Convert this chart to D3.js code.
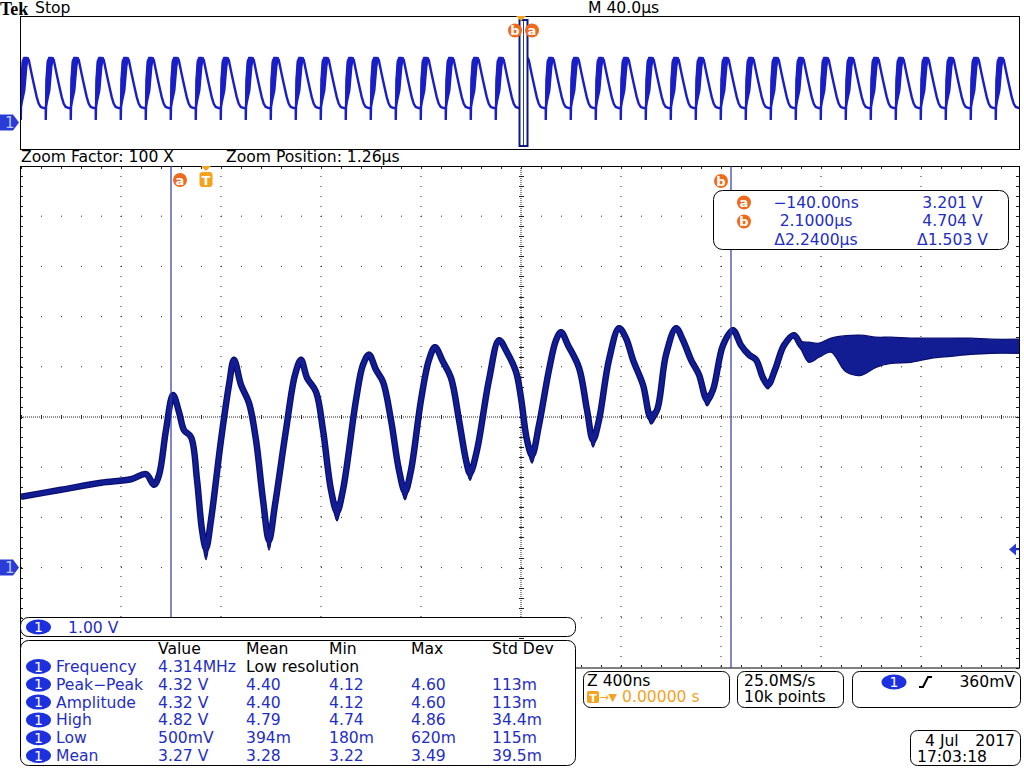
<!DOCTYPE html>
<html>
<head>
<meta charset="utf-8">
<script src="https://cdn.jsdelivr.net/npm/d3@7/dist/d3.min.js"></script>
<style>
  body { margin: 0; background: #fff; }
  svg { display: block; font-family: 'DejaVu Sans', sans-serif; }
</style>
</head>
<body>
<script>
// zoomed ch1 trace: time (ns from trigger), volts, half-width of the persistence band (V)
const traceT = [-740, -580, -420, -300, -240, -208, -188, -160, -132, -108,
  -88, -60, -36, -16, 0, 20, 60, 92, 112, 140,
  172, 200, 228, 252, 276, 320, 356, 380, 404, 440,
  468, 500, 524, 548, 600, 628, 652, 680, 708, 740,
  772, 796, 820, 860, 892, 916, 948, 980, 1012, 1040,
  1056, 1084, 1132, 1172, 1204, 1240, 1260, 1284, 1304, 1332,
  1372, 1400, 1420, 1448, 1492, 1524, 1548, 1572, 1612, 1652,
  1680, 1708, 1748, 1780, 1804, 1840, 1880, 1908, 1940, 1972,
  2004, 2028, 2068, 2108, 2140, 2172, 2200, 2228, 2248, 2276,
  2312, 2352, 2380, 2412, 2452, 2500, 2560, 2620, 2680, 2740,
  2820, 2900, 2980, 3060, 3140, 3256]
const traceV = [1.41, 1.55, 1.69, 1.76, 1.86, 1.65, 1.84, 2.74, 3.44, 3.10,
  2.74, 2.60, 1.75, 0.75, 0.38, 0.95, 2.54, 3.64, 4.14, 3.64,
  3.28, 2.54, 1.35, 0.55, 1.25, 2.74, 3.84, 4.14, 3.78, 3.50,
  2.74, 1.55, 1.11, 1.55, 3.34, 4.04, 4.24, 3.94, 3.70, 2.94,
  1.94, 1.51, 1.94, 3.34, 4.14, 4.39, 4.10, 3.78, 2.94, 2.14,
  1.88, 2.34, 3.74, 4.53, 4.29, 3.90, 3.38, 2.54, 2.24, 2.84,
  3.94, 4.53, 4.69, 4.43, 3.98, 3.14, 2.54, 2.94, 4.14, 4.77,
  4.57, 4.14, 3.64, 2.98, 3.14, 4.24, 4.77, 4.53, 4.14, 3.84,
  3.34, 3.54, 4.43, 4.73, 4.43, 4.24, 4.14, 3.78, 3.64, 3.94,
  4.43, 4.63, 4.43, 4.29, 4.33, 4.43, 4.26, 4.23, 4.29, 4.33,
  4.33, 4.37, 4.39, 4.41, 4.41, 4.41]
const traceSpread = [0.03, 0.03, 0.03, 0.03, 0.03, 0.03, 0.03, 0.05, 0.04, 0.04,
  0.04, 0.04, 0.08, 0.14, 0.22, 0.10, 0.05, 0.05, 0.05, 0.05,
  0.05, 0.08, 0.10, 0.20, 0.08, 0.05, 0.05, 0.05, 0.05, 0.05,
  0.08, 0.10, 0.18, 0.08, 0.05, 0.05, 0.05, 0.05, 0.05, 0.08,
  0.10, 0.16, 0.08, 0.05, 0.05, 0.05, 0.05, 0.05, 0.08, 0.10,
  0.14, 0.08, 0.05, 0.05, 0.05, 0.05, 0.08, 0.10, 0.16, 0.08,
  0.05, 0.05, 0.05, 0.05, 0.05, 0.08, 0.14, 0.08, 0.05, 0.05,
  0.05, 0.05, 0.08, 0.12, 0.08, 0.05, 0.05, 0.05, 0.05, 0.05,
  0.12, 0.08, 0.05, 0.05, 0.05, 0.05, 0.05, 0.08, 0.08, 0.05,
  0.05, 0.05, 0.08, 0.20, 0.14, 0.14, 0.36, 0.40, 0.30, 0.26,
  0.24, 0.20, 0.18, 0.16, 0.14, 0.14]

// overview record: one cycle as [µs after the dip, V], and where each cycle starts (µs)
const ovSpike = [[0, 1.08], [0, 0.18], [0.1, 1.08]]
const ovRiseEarly = [[0.1, 1.08], [0.3, 3.2], [0.8, 4.6], [1.4, 4.84], [2.4, 4.84]]
const ovRiseLate = [[0.1, 1.08], [1.6, 2.4], [2.4, 4.2], [3.0, 4.84]]
const ovFall = [[2.4, 4.84], [3.2, 4.7], [4.4, 3.6], [5.2, 2.9], [6.4, 1.9],
  [7.2, 1.4], [8.0, 1.16], [9.2, 1.08], [10.0, 1.08]]
const ovStarts = [-209.7, -199.7, -189.7, -179.7, -169.7, -159.7, -149.7, -139.7, -129.7, -119.7,
  -109.7, -99.7, -89.7, -79.7, -69.7, -59.7, -49.7, -39.7, -29.7, -19.7,
  -9.7, 0.3, 10.3, 20.3, 30.3, 40.3, 50.3, 60.3, 70.3, 80.3,
  90.3, 100.3, 110.3, 120.3, 130.3, 140.3, 150.3, 160.3, 170.3, 180.3,
  190.3, 200.3]

// cursors and trigger
const cursorA = { t: -140, label: 'a' }
const cursorB = { t: 2100, label: 'b' }
const trigLevel = 0.36
const cursorRows = [['−140.00ns', '3.201 V'], ['2.1000µs', '4.704 V'], ['Δ2.2400µs', 'Δ1.503 V']]

// measurement table
const measHeader = ['Value', 'Mean', 'Min', 'Max', 'Std Dev']
const measLabels = ['Frequency', 'Peak−Peak', 'Amplitude', 'High', 'Low', 'Mean']
const measValue = ['4.314MHz', '4.32 V', '4.32 V', '4.82 V', '500mV', '3.27 V']
const measMean = ['Low resolution', '4.40', '4.40', '4.79', '394m', '3.28']
const measMin = ['', '4.12', '4.12', '4.74', '180m', '3.22']
const measMax = ['', '4.60', '4.60', '4.86', '620m', '3.49']
const measStd = ['', '113m', '113m', '34.4m', '115m', '39.5m']

const textBlue = '#1f2ec4'
const badgeBlue = '#1d30e0'
const traceBlue = '#121d94'
const traceEdge = '#0a1070'
const ovBlue = '#1a1ec6'
const orange = '#f06a1c'
const amber = '#f5a21e'
const FS = 15.6

const svg = d3.select('body').append('svg').attr('width', 1024).attr('height', 768)

// scales
const ovX = d3.scaleLinear([-200, 200], [20, 1020])
const ovY = d3.scaleLinear([-2, 8], [149, 16])
const x = d3.scaleLinear([-740, 3260], [21, 1021])
const y = d3.scaleLinear([-2, 8], [668, 166])

const defs = svg.append('defs')
defs.append('clipPath').attr('id', 'ovclip')
  .append('rect').attr('x', 21).attr('y', 17).attr('width', 998).attr('height', 131)
defs.append('clipPath').attr('id', 'mainclip')
  .append('rect').attr('x', 21).attr('y', 167).attr('width', 998).attr('height', 500)

function txt (g, x0, y0, s, opt = {}) {
  return g.append('text').attr('x', x0).attr('y', y0).text(s)
    .attr('font-size', opt.size || FS)
    .attr('fill', opt.fill || '#000')
    .attr('text-anchor', opt.anchor || 'start')
    .attr('font-weight', opt.weight || 'normal')
}

function chBadge (cx, cy) {
  svg.append('ellipse').attr('cx', cx).attr('cy', cy).attr('rx', 12.5).attr('ry', 7.5).attr('fill', badgeBlue)
  txt(svg, cx, cy + 5, '1', { size: 14, fill: '#fff', anchor: 'middle' })
}

function cursorBadge (cx, cy, s) {
  svg.append('circle').attr('cx', cx).attr('cy', cy).attr('r', 7).attr('fill', orange)
  txt(svg, cx, cy + 4.5, s, { size: 13, fill: '#fff', anchor: 'middle', weight: 'bold' })
}

function chMarker (yc) {
  svg.append('path').attr('d', `M0,${yc - 8}H13L19,${yc}L13,${yc + 8}H0Z`).attr('fill', '#2a3bd8')
  txt(svg, 5, yc + 5.5, '1', { size: 15, fill: '#b8c6ff' })
}

// header
txt(svg, 0, 15, 'Tek', { size: 18, weight: 'bold' }).attr('font-family', "'Liberation Serif', serif")
txt(svg, 35, 13, 'Stop')
txt(svg, 588, 13, 'M 40.0µs')

/**
 * overview (whole record) window
 */
svg.append('rect').attr('x', 20.5).attr('y', 16.5).attr('width', 999).attr('height', 133)
  .attr('fill', 'none').attr('stroke', '#000')
const ovG = svg.append('g').attr('clip-path', 'url(#ovclip)')
const ovLine = t0 => d3.line().x(d => ovX(t0 + d[0])).y(d => ovY(d[1]))
ovStarts.forEach((t0) => {
  const wedge = ovRiseEarly.concat(ovRiseLate.slice().reverse())
  ovG.append('path').attr('d', ovLine(t0)(wedge) + 'Z')
    .attr('fill', ovBlue).attr('stroke', ovBlue).attr('stroke-width', 1.5)
  ovG.append('path').attr('d', ovLine(t0)(ovSpike.concat(ovRiseEarly, ovFall)))
    .attr('fill', 'none').attr('stroke', ovBlue).attr('stroke-width', 2.4)
})
// zoom window marker
svg.append('rect').attr('x', 519.5).attr('y', 20).attr('width', 8).attr('height', 126)
  .attr('fill', '#fff').attr('stroke', '#0c1a80').attr('stroke-width', 2)
svg.append('line').attr('x1', 523.5).attr('x2', 523.5).attr('y1', 21).attr('y2', 145)
  .attr('stroke', '#2a3aa8')
svg.append('path').attr('d', 'M516,16H526L521,21Z').attr('fill', amber)
cursorBadge(515, 30.5, 'b')
cursorBadge(532, 30.5, 'a')
chMarker(ovY(0))

txt(svg, 21, 162, 'Zoom Factor: 100 X')
txt(svg, 226, 162, 'Zoom Position: 1.26µs')

/**
 * zoomed graticule
 */
const grid = svg.append('g').attr('fill', 'none')
const gridT = [-340, 60, 460, 860, 1660, 2060, 2460, 2860]
const gridV = [-1, 0, 1, 2, 4, 5, 6, 7]
gridT.forEach(t => grid.append('line').attr('x1', x(t)).attr('x2', x(t)).attr('y1', 166).attr('y2', 668)
  .attr('stroke', '#222').attr('stroke-dasharray', '1,9'))
gridV.forEach(v => grid.append('line').attr('x1', 21).attr('x2', 1019).attr('y1', y(v)).attr('y2', y(v))
  .attr('stroke', '#222').attr('stroke-dasharray', '1,19'))
// centre cross
grid.append('line').attr('x1', x(1260)).attr('x2', x(1260)).attr('y1', 166).attr('y2', 668)
  .attr('stroke', '#222').attr('stroke-dasharray', '1,1')
grid.append('line').attr('x1', 21).attr('x2', 1019).attr('y1', y(3)).attr('y2', y(3))
  .attr('stroke', '#222').attr('stroke-dasharray', '1,1')
d3.range(-740, 3260, 80).forEach((t) => {
  const xx = Math.round(x(t)) + 0.5
  grid.append('path').attr('d', `M${xx},${y(3) - 2}V${y(3) + 2}M${xx},167V169M${xx},665V667`).attr('stroke', '#222')
})
d3.range(-2, 8, 0.2).forEach((v) => {
  const yy = Math.round(y(v)) + 0.5
  grid.append('path').attr('d', `M${x(1260) - 2},${yy}H${x(1260) + 3}M21,${yy}H23M1016,${yy}H1019`).attr('stroke', '#222')
})
svg.append('rect').attr('x', 20.5).attr('y', 166.5).attr('width', 999).attr('height', 501.5)
  .attr('fill', 'none').attr('stroke', '#000')

/**
 * ch1 trace
 */
const pts = traceT.map((t, i) => ({ t, v: traceV[i], s: traceSpread[i] }))
const band = d3.area().x(d => x(d.t)).y0(d => y(d.v - d.s)).y1(d => y(d.v + d.s)).curve(d3.curveCatmullRom)
const mid = d3.line().x(d => x(d.t)).y(d => y(d.v)).curve(d3.curveCatmullRom)
const tr = svg.append('g').attr('clip-path', 'url(#mainclip)')
tr.append('path').attr('d', mid(pts)).attr('fill', 'none').attr('stroke', traceEdge).attr('stroke-width', 6.5)
tr.append('path').attr('d', band(pts)).attr('fill', traceBlue).attr('stroke', traceEdge).attr('stroke-width', 1.3)
tr.append('path').attr('d', mid(pts)).attr('fill', 'none').attr('stroke', traceBlue).attr('stroke-width', 4)

// cursors
svg.append('line').attr('x1', x(cursorA.t)).attr('x2', x(cursorA.t)).attr('y1', 166).attr('y2', 617)
  .attr('stroke', '#2a38a8').attr('stroke-width', 1.2)
svg.append('line').attr('x1', x(cursorB.t)).attr('x2', x(cursorB.t)).attr('y1', 166).attr('y2', 668)
  .attr('stroke', '#2a38a8').attr('stroke-width', 1.2)
cursorBadge(x(cursorA.t) + 9, 180, cursorA.label)
cursorBadge(x(cursorB.t) - 10, 181, cursorB.label)

// trigger position marker
const tx = x(0)
svg.append('path').attr('d', `M${tx - 5},166H${tx + 5}L${tx},171Z`).attr('fill', amber)
svg.append('rect').attr('x', tx - 6.5).attr('y', 172).attr('width', 13).attr('height', 15).attr('rx', 3).attr('fill', amber)
txt(svg, tx, 185, 'T', { size: 13, fill: '#fff', anchor: 'middle', weight: 'bold' })

// trigger level marker
const ty = y(trigLevel)
svg.append('path').attr('d', `M1009,${ty}L1016,${ty - 6}V${ty + 6}Z`).attr('fill', '#2a3bd8')
svg.append('line').attr('x1', 1014).attr('x2', 1019).attr('y1', ty).attr('y2', ty).attr('stroke', '#2a3bd8').attr('stroke-width', 1.5)

chMarker(y(0))

// cursor readout
svg.append('rect').attr('x', 713.5).attr('y', 190.5).attr('width', 295).attr('height', 59).attr('rx', 9)
  .attr('fill', '#fff').attr('stroke', '#000')
cursorBadge(744, 202.5, 'a')
cursorBadge(744, 221.5, 'b')
cursorRows.forEach((r, i) => {
  txt(svg, 816, 207.5 + i * 18.7, r[0], { fill: textBlue, anchor: 'middle' })
  txt(svg, 952.5, 207.5 + i * 18.7, r[1], { fill: textBlue, anchor: 'middle' })
})

/**
 * bottom panels
 */
svg.append('rect').attr('x', 20.5).attr('y', 617.5).attr('width', 555).attr('height', 19).attr('rx', 8)
  .attr('fill', '#fff').attr('stroke', '#000')
chBadge(38.5, 627)
txt(svg, 68, 632.5, '1.00 V', { fill: textBlue })

svg.append('rect').attr('x', 20.5).attr('y', 640.5).attr('width', 555).attr('height', 125).attr('rx', 8)
  .attr('fill', '#fff').attr('stroke', '#000')
const colX = [158, 246, 329, 411, 492]
measHeader.forEach((h, i) => txt(svg, colX[i], 654, h))
measLabels.forEach((lab, i) => {
  const by = 672 + i * 17.8
  chBadge(38.5, by - 5.5)
  txt(svg, 56, by, lab, { fill: textBlue })
  txt(svg, colX[0], by, measValue[i], { fill: textBlue })
  txt(svg, colX[1], by, measMean[i], { fill: i === 0 ? '#000' : textBlue })
  txt(svg, colX[2], by, measMin[i], { fill: textBlue })
  txt(svg, colX[3], by, measMax[i], { fill: textBlue })
  txt(svg, colX[4], by, measStd[i], { fill: textBlue })
})

// horizontal / acquisition / trigger boxes
const boxes = [[583, 146], [737, 106], [852, 168]]
boxes.forEach(b => svg.append('rect').attr('x', b[0] + 0.5).attr('y', 671.5).attr('width', b[1]).attr('height', 36).attr('rx', 7)
  .attr('fill', '#fff').attr('stroke', '#000'))
txt(svg, 587, 686, 'Z 400ns')
svg.append('rect').attr('x', 587).attr('y', 691).attr('width', 12).attr('height', 12).attr('rx', 2).attr('fill', amber)
txt(svg, 593, 701.5, 'T', { size: 11, fill: '#fff', anchor: 'middle', weight: 'bold' })
txt(svg, 599.5, 701, '→', { size: 11, fill: amber })
txt(svg, 608.5, 701, '▼', { size: 11, fill: amber })
txt(svg, 622, 702, '0.00000 s', { fill: amber })
txt(svg, 744, 686, '25.0MS/s')
txt(svg, 744, 702, '10k points')
chBadge(894, 682)
svg.append('path').attr('d', 'M919,687H923L928,677H932').attr('fill', 'none').attr('stroke', '#000').attr('stroke-width', 2)
txt(svg, 1015, 687, '360mV', { anchor: 'end' })

svg.append('rect').attr('x', 910.5).attr('y', 730.5).attr('width', 110).attr('height', 35).attr('rx', 7)
  .attr('fill', '#fff').attr('stroke', '#000')
txt(svg, 925, 746, '4 Jul')
txt(svg, 1015, 746, '2017', { anchor: 'end' })
txt(svg, 917, 762, '17:03:18')
</script>
</body>
</html>
